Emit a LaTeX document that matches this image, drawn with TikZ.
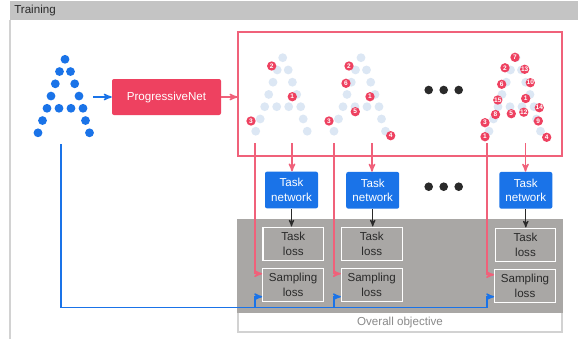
\documentclass[tikz,border=0pt]{standalone}
\usepackage{fontspec}
\setmainfont{Liberation Sans}
\usepackage{tikz}
\usetikzlibrary{arrows,positioning}
\definecolor{gblue}{HTML}{1A73E8}
\definecolor{pale}{HTML}{DCE7F4}
\definecolor{gred}{HTML}{EE4160}
\definecolor{lred}{HTML}{F0617A}
\definecolor{slate}{HTML}{A9A7A5}
\definecolor{hdr}{HTML}{C4C4C4}
\definecolor{frame}{HTML}{D2D2D2}
\definecolor{ink}{HTML}{2A2A2A}
\definecolor{faint}{HTML}{8A8A8A}
\newcommand{\letterA}[3]{%
  \foreach \dx/\r in {0/0,-5.5/1,5.5/1,-9.7/2,9.7/2,-14/3,14/3,-18/4,-6/4,6/4,18/4,-22.5/5,20.5/5,-27/6,24.5/6}
    \fill[#3] (#1+\dx,#2+12.25*\r) circle[radius=4.4];}

\begin{document}
\begin{tikzpicture}[x=0.75pt,y=-0.75pt,>=stealth',font=\fontsize{8.7}{11}\selectfont,
    loss/.style={draw=white,line width=0.8pt,fill=slate,text=ink,align=center,minimum width=45.5pt,minimum height=25pt,inner sep=0pt},
    net/.style={fill=gblue,text=white,align=center,rounded corners=1.5pt,minimum width=39.75pt,minimum height=27.5pt,inner sep=0pt},
    badge/.style={circle,fill=gred,text=white,inner sep=0pt,minimum size=7pt,font=\fontsize{4.9}{5}\selectfont\bfseries},
    rline/.style={draw=lred,line width=1.1pt},
    bline/.style={draw=gblue,line width=1.1pt}]
  \fill[white] (0,0) rectangle (578,339);
  \useasboundingbox (0,0) rectangle (578,339);
  % frame
  \fill[hdr] (10,1) rectangle (578,20);
  \draw[frame,line width=0.8pt] (10,20) -- (10,339);
  \node[anchor=west,text=ink,inner sep=0pt] (title) at (14,11) {Training};
  % input point set
  \letterA{65}{59.3}{gblue}
  \coordinate (aout) at (93,97);
  \coordinate (ain) at (61,144);
  \node[fill=gred,text=white,rounded corners=1.5pt,minimum width=81.75pt,minimum height=27pt] (pnet) at (166.5,97) {ProgressiveNet};
  \node[draw=lred,line width=0.8pt,minimum width=243pt,minimum height=93pt] (samples) at (400,94) {};
  \draw[bline,->] (aout) -- (pnet.west);
  \draw[rline,->] (pnet.east) -- (pnet.east -| samples.west);
  % sampled points
  \letterA{282.7}{57.7}{pale}
  \letterA{361}{57.7}{pale}
  \letterA{516}{57.7}{pale}
  \foreach \n/\x/\y [count=\i] in {2/271.7/66,1/292.3/96.7,3/251/121,
      2/349/66,6/346/83.3,1/370/96.7,5/355.3/111.7,3/329/121,4/390.7/135.7,
      7/515/57.3,2/505/67.8,13/524.7/69.3,6/501.7/84.3,10/530.3/82.7,15/497.8/100,1/525.7/98.5,
      14/539.3/107.7,8/495.5/114.5,5/511.3/113.7,12/523.8/112.2,9/538.3/121,3/485/122.7,1/485/136.7,4/546.7/137.3}
    \node[badge] (b\i) at (\x,\y) {\n};
  % ellipses
  \foreach \y [count=\j] in {90,186.7,265.7}
    \foreach \x [count=\i] in {428.7,443.7,458.7}
      \fill[ink] (\x,\y) circle[radius=4.3];
  % objective
  \node[draw=frame,line width=0.8pt,minimum width=243pt,minimum height=84pt,inner sep=0pt] (objective) at (400,276) {};
  \fill[slate] (objective.north west) rectangle ([yshift=15pt]objective.south east);
  \node[text=faint] (objlabel) at (400,322) {Overall objective};
  \node[net] (tn1) at (291.5,190) {Task\\network};
  \node[net] (tn2) at (372.7,190.3) {Task\\network};
  \node[net] (tn3) at (525.8,190.3) {Task\\network};
  \node[loss] (tl1) at (293.3,243.7) {Task\\loss};
  \node[loss] (tl2) at (371.8,243.7) {Task\\loss};
  \node[loss] (tl3) at (525.5,244.7) {Task\\loss};
  \node[loss] (sl1) at (293.1,284.7) {Sampling\\loss};
  \node[loss] (sl2) at (371.7,284.7) {Sampling\\loss};
  \node[loss] (sl3) at (525,285.7) {Sampling\\loss};
  % connections
  \foreach \k/\xa/\xb in {1/255/292,2/334/372,3/487/525.5} {
    \coordinate (src\k) at (\xa,143.3);
    \coordinate (dst\k) at (\xb,143.3);
    \coordinate (tap\k) at (\xa,307.7);
    \draw[rline,->] (src\k) |- ([yshift=8.25pt]sl\k.west);
    \draw[rline,->] (dst\k) -- (dst\k |- tn\k.north);
    \draw[->,ink,line width=0.8pt] (tn\k.south) -- (tn\k.south |- tl\k.north);
  }
  \draw[bline] (ain) |- (tap3);
  \foreach \k in {1,2,3}
    \draw[bline,->] (tap\k) |- (sl\k.west |- 0,296.7);
\end{tikzpicture}
\end{document}
